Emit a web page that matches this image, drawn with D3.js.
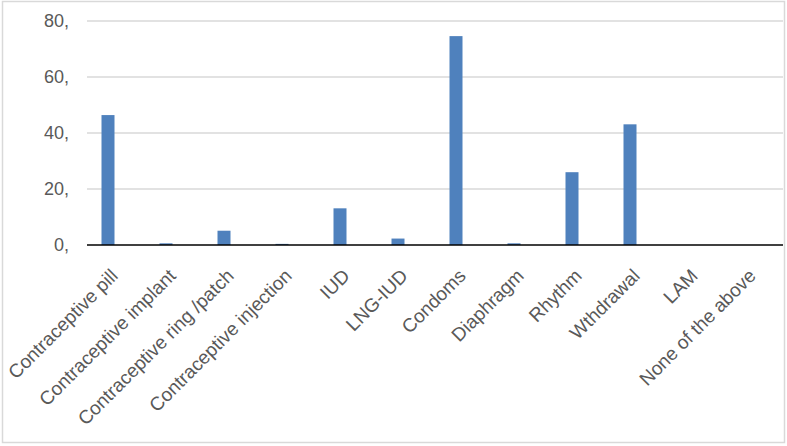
<!DOCTYPE html>
<html>
<head>
<meta charset="utf-8">
<script src="https://cdn.jsdelivr.net/npm/d3@7"></script>
<style>
  body { margin: 0; background: #fff; }
  text { font-family: "Liberation Sans", Arial, sans-serif; }
</style>
</head>
<body>
<svg id="mysvg" width="787" height="446"></svg>
<script>
// chart data
var categories = ["Contraceptive pill", "Contraceptive implant", "Contraceptive ring /patch",
  "Contraceptive injection", "IUD", "LNG-IUD", "Condoms", "Diaphragm", "Rhythm",
  "Wthdrawal", "LAM", "None of the above"];
var values = [46.4, 0.6, 5.1, 0.4, 13.1, 2.3, 74.6, 0.6, 26.0, 43.1, 0, 0];
var yTicks = [0, 20, 40, 60, 80];

function drawChart()
{
  var svg = d3.select("#mysvg");
  var plotLeft = 87, plotRight = 783, plotTop = 21, plotBottom = 245;

  // outer border
  svg.append("rect")
    .attr("x", 2.5).attr("y", 1.5)
    .attr("width", 782).attr("height", 441)
    .attr("fill", "#fff")
    .attr("stroke", "#d9d9d9")
    .attr("stroke-width", 1.5);

  var x = d3.scaleBand().domain(categories).range([plotLeft, plotRight]);
  var y = d3.scaleLinear().domain([0, 80]).range([plotBottom, plotTop]);

  // gridlines
  svg.append("g")
    .selectAll("line")
    .data(yTicks.filter(function(d) { return d > 0; }))
    .enter()
    .append("line")
    .attr("x1", plotLeft).attr("x2", plotRight)
    .attr("y1", function(d) { return y(d); })
    .attr("y2", function(d) { return y(d); })
    .attr("stroke", "#d9d9d9")
    .attr("stroke-width", 1.5);

  // y labels
  svg.append("g")
    .selectAll("text")
    .data(yTicks)
    .enter()
    .append("text")
    .attr("x", 69)
    .attr("y", function(d) { return y(d) + 6; })
    .attr("text-anchor", "end")
    .attr("font-size", 18)
    .attr("fill", "#595959")
    .text(function(d) { return d + ","; });

  // bars, offset left inside each band like the original
  var barW = 13, offset = -8;
  svg.append("g")
    .selectAll("rect")
    .data(categories)
    .enter()
    .append("rect")
    .attr("x", function(d) { return x(d) + x.bandwidth() / 2 + offset - barW / 2; })
    .attr("y", function(d, i) { return y(values[i]); })
    .attr("width", barW)
    .attr("height", function(d, i) { return plotBottom - y(values[i]); })
    .attr("fill", "#4f81bd");

  // x axis line
  svg.append("line")
    .attr("x1", plotLeft).attr("x2", plotRight)
    .attr("y1", plotBottom).attr("y2", plotBottom)
    .attr("stroke", "#000")
    .attr("stroke-width", 1.5);

  // category labels rotated
  svg.append("g")
    .selectAll("text")
    .data(categories)
    .enter()
    .append("text")
    .attr("transform", function(d) {
      return "translate(" + (x(d) + x.bandwidth() / 2 + 3) + "," + 277 + ") rotate(-45)";
    })
    .attr("text-anchor", "end")
    .attr("font-size", 19)
    .attr("fill", "#595959")
    .text(function(d) { return d; });
}

drawChart();
</script>
</body>
</html>
